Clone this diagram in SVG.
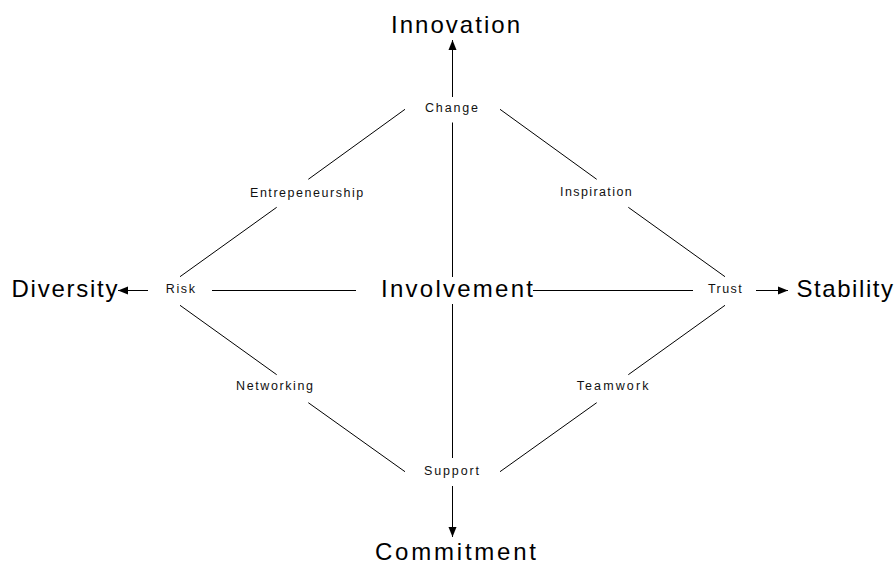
<svg xmlns="http://www.w3.org/2000/svg" width="896" height="564" viewBox="0 0 896 564">
  <style>
    .big { font-family: "Liberation Sans", Arial, sans-serif; font-size: 24px; fill: #000; }
    .small { font-family: "Liberation Sans", Arial, sans-serif; font-size: 12.5px; fill: #111; }
    .edge { stroke: #000; stroke-width: 1; fill: none; }
  </style>
  <defs>
    <marker id="arrow" viewBox="0 0 10 10" refX="10" refY="5" markerWidth="10" markerHeight="10" markerUnits="userSpaceOnUse" orient="auto">
      <path d="M0,1 L10,5 L0,9 Z" fill="#000"/>
    </marker>
  </defs>
  <rect width="896" height="564" fill="#fff"/>

  <g id="connectors">
    <!-- axes through the centre -->
    <line class="edge" x1="452.5" y1="122.5" x2="452.5" y2="277"/>
    <line class="edge" x1="452.5" y1="304" x2="452.5" y2="458"/>
    <line class="edge" x1="212" y1="290.5" x2="356" y2="290.5"/>
    <line class="edge" x1="533" y1="290.5" x2="693" y2="290.5"/>
    <!-- diamond sides -->
    <line class="edge" x1="405" y1="109.3" x2="308.3" y2="179.3"/>
    <line class="edge" x1="276.7" y1="207.3" x2="180" y2="276.7"/>
    <line class="edge" x1="500" y1="109.3" x2="596.7" y2="179.3"/>
    <line class="edge" x1="628.3" y1="207.3" x2="725" y2="276.7"/>
    <line class="edge" x1="180" y1="305.3" x2="276.7" y2="374.7"/>
    <line class="edge" x1="308.3" y1="402.7" x2="405" y2="471.7"/>
    <line class="edge" x1="725" y1="305.3" x2="628.3" y2="374.7"/>
    <line class="edge" x1="596.7" y1="402.7" x2="500" y2="471.7"/>
    <!-- outward arrows -->
    <line class="edge" x1="452.5" y1="97" x2="452.5" y2="40" marker-end="url(#arrow)"/>
    <line class="edge" x1="452.5" y1="486" x2="452.5" y2="537" marker-end="url(#arrow)"/>
    <line class="edge" x1="148" y1="290.5" x2="118" y2="290.5" marker-end="url(#arrow)"/>
    <line class="edge" x1="756" y1="290.5" x2="788" y2="290.5" marker-end="url(#arrow)"/>
  </g>

  <g id="innovation"><text class="big" x="391" y="33" textLength="129" lengthAdjust="spacing">Innovation</text></g>
  <g id="commitment"><text class="big" x="375" y="560" textLength="161" lengthAdjust="spacing">Commitment</text></g>
  <g id="diversity"><text class="big" x="11.5" y="297" textLength="106" lengthAdjust="spacing">Diversity</text></g>
  <g id="stability"><text class="big" x="796.5" y="297" textLength="96.5" lengthAdjust="spacing">Stability</text></g>
  <g id="involvement"><text class="big" x="381" y="297" textLength="152" lengthAdjust="spacing">Involvement</text></g>

  <g id="change"><text class="small" x="425" y="111.7" textLength="53" lengthAdjust="spacing">Change</text></g>
  <g id="support"><text class="small" x="424" y="475" textLength="55" lengthAdjust="spacing">Support</text></g>
  <g id="risk"><text class="small" x="165.7" y="293.3" textLength="29.3" lengthAdjust="spacing">Risk</text></g>
  <g id="trust"><text class="small" x="708" y="293.3" textLength="33.7" lengthAdjust="spacing">Trust</text></g>
  <g id="entrepeneurship"><text class="small" x="250" y="196.7" textLength="113.3" lengthAdjust="spacing">Entrepeneurship</text></g>
  <g id="inspiration"><text class="small" x="560" y="196.3" textLength="71.7" lengthAdjust="spacing">Inspiration</text></g>
  <g id="networking"><text class="small" x="236" y="390" textLength="77" lengthAdjust="spacing">Networking</text></g>
  <g id="teamwork"><text class="small" x="576.7" y="389.5" textLength="71.7" lengthAdjust="spacing">Teamwork</text></g>
</svg>
